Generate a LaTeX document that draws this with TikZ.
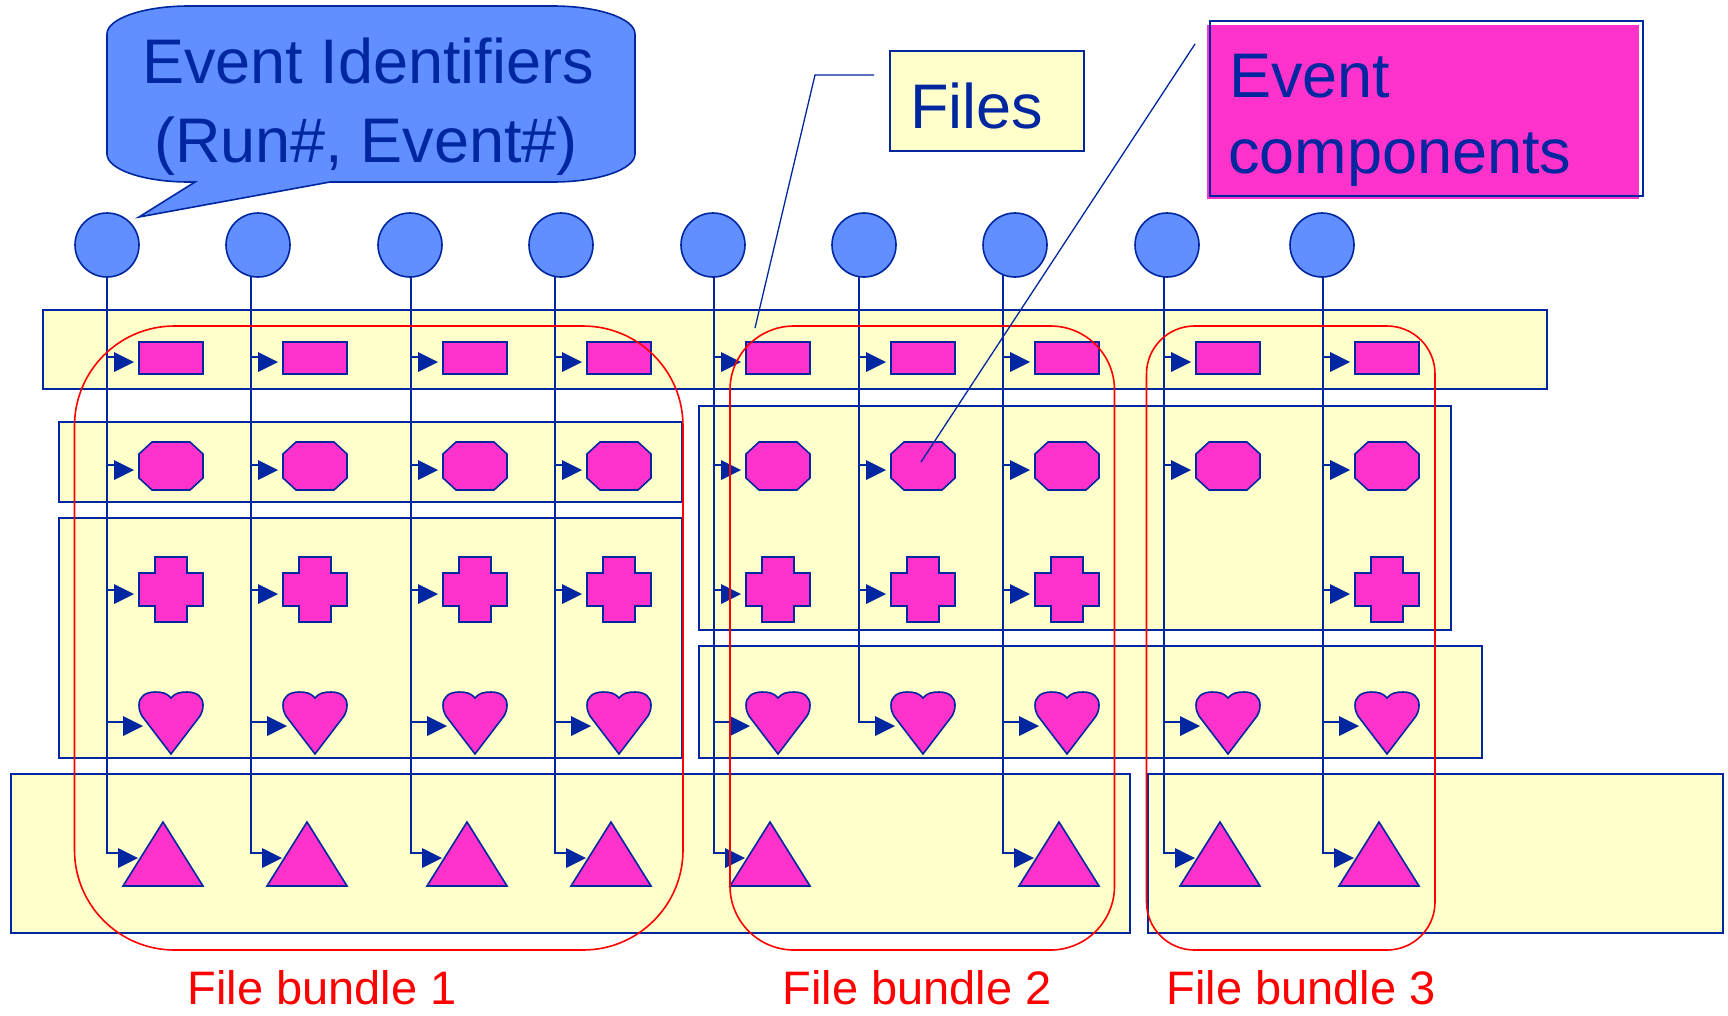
\documentclass[tikz,border=0pt]{standalone}
\usepackage{fontspec}
\setmainfont{Liberation Sans}

\definecolor{inkblue}{RGB}{0,38,160}
\definecolor{bubbleblue}{RGB}{97,143,255}
\definecolor{compmag}{RGB}{255,51,204}
\definecolor{fileyellow}{RGB}{255,255,204}
\definecolor{bundlered}{RGB}{255,0,0}

\tikzset{
  filebox/.style={fill=fileyellow, draw=inkblue, line width=1.8pt},
  wire/.style={draw=inkblue, line width=1.6pt},
  part/.style={fill=compmag, draw=inkblue, line width=1.6pt, line join=miter},
  tiphead/.style={fill=inkblue},
  evt/.style={circle, minimum size=64pt, inner sep=0pt, fill=bubbleblue, draw=inkblue, line width=1.6pt},
  bundle/.style={draw=bundlered, line width=1.6pt},
  lead/.style={draw=inkblue, line width=1.3pt},
  bigtxt/.style={text=inkblue, font=\fontsize{63}{76}\selectfont, inner sep=0pt},
  bundletxt/.style={text=bundlered, font=\fontsize{47}{56}\selectfont, inner sep=0pt},
}

% event component glyphs, #1 = x of the column wire
\newcommand\partrect[1]{\path[part] ({#1+32},342) rectangle ({#1+96},374);}
\newcommand\partoct[1]{\path[part] ({#1+45},442) -- ({#1+83},442) -- ({#1+96},454) -- ({#1+96},478)
  -- ({#1+83},490) -- ({#1+45},490) -- ({#1+32},478) -- ({#1+32},454) -- cycle;}
\newcommand\partcross[1]{\path[part] ({#1+48},557) -- ({#1+80},557) -- ({#1+80},573) -- ({#1+96},573)
  -- ({#1+96},606) -- ({#1+80},606) -- ({#1+80},622) -- ({#1+48},622) -- ({#1+48},606)
  -- ({#1+32},606) -- ({#1+32},573) -- ({#1+48},573) -- cycle;}
\newcommand\partheart[1]{\path[part] ({#1+64},698)
  .. controls ({#1+60},693) and ({#1+55},692) .. ({#1+48},692)
  .. controls ({#1+38},692) and ({#1+32},697) .. ({#1+32},705)
  .. controls ({#1+32},710) and ({#1+33},712) .. ({#1+35},716)
  -- ({#1+64},754) -- ({#1+93},716)
  .. controls ({#1+95},712) and ({#1+96},710) .. ({#1+96},705)
  .. controls ({#1+96},697) and ({#1+90},692) .. ({#1+80},692)
  .. controls ({#1+73},692) and ({#1+68},693) .. ({#1+64},698) -- cycle;}
\newcommand\parttri[1]{\path[part] ({#1+16},886) -- ({#1+56},822) -- ({#1+96},886) -- cycle;}
% arrow head: #1 = x of its base, #2 = y of its centre
\newcommand\headat[2]{\path[tiphead] (#1,{#2-10}) -- ({#1+20},#2) -- (#1,{#2+10}) -- cycle;}

\begin{document}
\begin{tikzpicture}[x=1pt, y=-1pt]
\useasboundingbox (0,0) rectangle (1728,1015);

% files
\path[filebox] (43,310) rectangle (1547,389);
\path[filebox] (59,422) rectangle (682,502);
\path[filebox] (59,518) rectangle (682,758);
\path[filebox] (699,406) rectangle (1451,630);
\path[filebox] (699,646) rectangle (1482,758);
\path[filebox] (11,774) rectangle (1130,933);
\path[filebox] (1148,774) rectangle (1723,933);

% columns: wire x / identifier x / has cross / has triangle
\foreach \L/\C/\hc/\ht [count=\i] in {107/107/1/1, 251/258/1/1, 411/410/1/1, 555/561/1/1,
    714/713/1/1, 859/864/1/0, 1003/1015/1/1, 1164/1167/0/1, 1323/1322/1/1} {
  \coordinate (ev\i) at (\C,245);
  % wire running down from the identifier
  \ifnum\ht=1
    \draw[wire] (\L,0 |- ev\i) |- ({\L+14},853);
  \else
    \draw[wire] (\L,0 |- ev\i) |- ({\L+19},722);
  \fi
  \draw[wire] (\L,357) -- ({\L+10},357);
  \draw[wire] (\L,465) -- ({\L+10},465);
  \ifnum\hc=1 \draw[wire] (\L,590) -- ({\L+10},590); \fi
  \draw[wire] (\L,722) -- ({\L+19},722);
  % identifier
  \node[evt] (id\i) at (ev\i) {};
  % components with their arrow heads
  \partrect{\L}  \headat{\L+7}{362}
  \partoct{\L}   \headat{\L+7}{470}
  \coordinate (oct\i) at ({\L+62},462);
  \ifnum\hc=1 \partcross{\L} \headat{\L+7}{594} \fi
  \partheart{\L} \headat{\L+16}{726}
  \ifnum\ht=1 \parttri{\L} \headat{\L+11}{858} \fi
}

% file bundles
\draw[bundle, rounded corners=100pt] (74.5,326) rectangle (683,950);
\draw[bundle, rounded corners=64pt] (730,326) rectangle (1114.5,950);
\draw[bundle, rounded corners=48pt] (1146.5,326) rectangle (1435,950);
\node[bundletxt, anchor=base] (fb1) at (322,1004) {File bundle 1};
\node[bundletxt, anchor=base] (fb2) at (917,1004) {File bundle 2};
\node[bundletxt, anchor=base] (fb3) at (1301,1004) {File bundle 3};

% callout for the identifiers
\path[fill=bubbleblue, draw=inkblue, line width=1.6pt, line join=miter]
  (189,6) -- (553,6)
  .. controls (598.3,6) and (635,18.5) .. (635,34)
  -- (635,154)
  .. controls (635,169.5) and (598.3,182) .. (553,182)
  -- (330,182) -- (139,217) -- (195,182) -- (189,182)
  .. controls (143.7,182) and (107,169.5) .. (107,154)
  -- (107,34)
  .. controls (107,18.5) and (143.7,6) .. (189,6) -- cycle;
\node[bigtxt, anchor=base] (idt1) at (368,83) {Event Identifiers};
\node[bigtxt, anchor=base] (idt2) at (366,162) {(Run\#, Event\#)};

% files label
\path[fill=fileyellow, draw=inkblue, line width=1.8pt] (890,51) rectangle (1084,151);
\node[bigtxt, anchor=base west] (fileslbl) at (910,128) {Files};
\coordinate (fileslead) at (874,75);
\coordinate (filesbend) at (815,75);
\coordinate (fileshook) at (755,328);
\draw[lead] (fileslead) -- (filesbend) -- (fileshook);

% event components label
\fill[white] (1210,21) rectangle (1643,196);
\fill[compmag] (1207,25) rectangle (1639,199);
\draw[inkblue, line width=1.6pt] (1210,21) rectangle (1643,196);
\node[bigtxt, anchor=base west] (comp1) at (1229,97) {Event};
\node[bigtxt, anchor=base west] (comp2) at (1228,173) {components};
\coordinate (complead) at (1195,44);
\draw[lead] (complead) -- (oct6);

\end{tikzpicture}
\end{document}
